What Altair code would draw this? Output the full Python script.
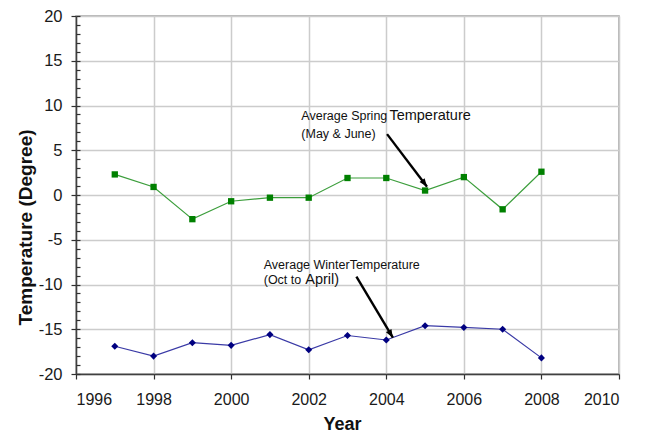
import altair as alt
import pandas as pd

# ---- data ----
years = list(range(1997, 2009))
spring = [2.3, 0.9, -2.7, -0.7, -0.3, -0.3, 1.9, 1.9, 0.5, 2.0, -1.6, 2.6]
winter = [-16.9, -18.0, -16.5, -16.8, -15.6, -17.3, -15.7, -16.2, -14.6, -14.8, -15.0, -18.2]

x_ticks = list(range(1996, 2011, 2))
y_ticks = list(range(-20, 21, 5))
y_minor = list(range(-20, 21))

# annotation texts (data coordinates)
small_text = ["Average Spring", "(May & June)", "Average WinterTemperature", "(Oct to"]
small_x = [2001.81, 2001.81, 2000.84, 2000.84]
small_y = [8.37, 6.42, -8.25, -9.95]
big_text = ["Temperature", "April)"]
big_x = [2004.08, 2001.91]
big_y = [8.37, -9.95]

# arrows: start and tip (data coordinates)
arrow_x = [2004.02, 2003.23]
arrow_y = [6.8, -9.11]
arrow_x2 = [2005.05, 2004.17]
arrow_y2 = [0.93, -15.94]
arrow_angle = [142.8, 149.1]

df = pd.DataFrame({"year": years, "spring": spring, "winter": winter})
small_df = pd.DataFrame({"t": small_text, "x": small_x, "y": small_y})
big_df = pd.DataFrame({"t": big_text, "x": big_x, "y": big_y})
arrow_df = pd.DataFrame({"x": arrow_x, "y": arrow_y, "x2": arrow_x2, "y2": arrow_y2, "a": arrow_angle})

FONT = "Liberation Sans"

x_scale = alt.Scale(domain=[1996, 2010], nice=False, zero=False)
y_scale = alt.Scale(domain=[-20, 20], nice=False, zero=False)

x_axis = alt.Axis(values=x_ticks, format="d", title="Year", grid=True,
                  tickSize=5, labelPadding=12, labelFontSize=16,
                  titleFontSize=18, titleFontWeight="bold",
                  titleX=266, titleY=55, titleBaseline="alphabetic", titleAlign="center")
y_axis = alt.Axis(values=y_ticks, title="Temperature (Degree)", grid=True, orient="left",
                  labelExpr="'' + datum.value",
                  tickSize=5, labelPadding=9, labelFontSize=16.5,
                  titleFontSize=19, titleFontWeight="bold", titleAngle=270,
                  titleX=-45, titleY=211, titleBaseline="alphabetic", titleAlign="center")
y_minor_axis = alt.Axis(values=y_minor, title=None, grid=False, orient="left",
                        labels=False, domain=False, tickSize=4, offset=-4)


def X(field):
    return alt.X(f"{field}:Q", scale=x_scale, axis=x_axis)


def Y(field):
    return alt.Y(f"{field}:Q", scale=y_scale, axis=y_axis)


spring_line = alt.Chart(df).mark_line(color="#3c9e3c", strokeWidth=1.2).encode(x=X("year"), y=Y("spring"))
spring_pts = alt.Chart(df).mark_point(shape="square", filled=True, size=40, color="#008000", opacity=1).encode(
    x=X("year"), y=Y("spring"))
winter_line = alt.Chart(df).mark_line(color="#3a3aa6", strokeWidth=1.2).encode(x=X("year"), y=Y("winter"))
winter_pts = alt.Chart(df).mark_point(shape="diamond", filled=True, size=50, color="#000080", opacity=1).encode(
    x=X("year"), y=Y("winter"))

small_lbl = alt.Chart(small_df).mark_text(font=FONT, fontSize=12.5, align="left", baseline="alphabetic",
                                          color="#111111").encode(x=X("x"), y=Y("y"), text="t:N")
big_lbl = alt.Chart(big_df).mark_text(font=FONT, fontSize=14.5, align="left", baseline="alphabetic",
                                      color="#111111").encode(x=X("x"), y=Y("y"), text="t:N")

arrow_line = alt.Chart(arrow_df).mark_rule(color="black", strokeWidth=2.4).encode(
    x=X("x"), y=Y("y"), x2="x2:Q", y2="y2:Q")
arrow_head = alt.Chart(arrow_df).mark_point(shape="M0,0 L-0.45,1.15 L0.45,1.15 Z", filled=True, size=200,
                                            color="black", opacity=1).encode(
    x=X("x2"), y=Y("y2"), angle=alt.Angle("a:Q", scale=None))

main = alt.layer(spring_line, spring_pts, winter_line, winter_pts, small_lbl, big_lbl, arrow_line, arrow_head)

minor = alt.Chart(df).mark_point(opacity=0).encode(
    x=X("year"), y=alt.Y("winter:Q", scale=y_scale, axis=y_minor_axis))

chart = alt.layer(main, minor).resolve_axis(y="independent").properties(
    width=543, height=358,
    autosize=alt.AutoSizeParams(type="none"),
    padding={"left": 68, "top": 8, "right": 23, "bottom": 60},
).configure_view(
    stroke="#a0a0a0", strokeWidth=1.5
).configure_axis(
    labelFont=FONT, titleFont=FONT, labelColor="#1a1a1a", titleColor="#111111",
    gridColor="#cccccc", gridWidth=1.5, domainColor="#404040", domainWidth=1.5,
    tickColor="#303030", tickWidth=1.2,
)

chart.save("out.html", embed_options={"renderer": "svg", "actions": False})
